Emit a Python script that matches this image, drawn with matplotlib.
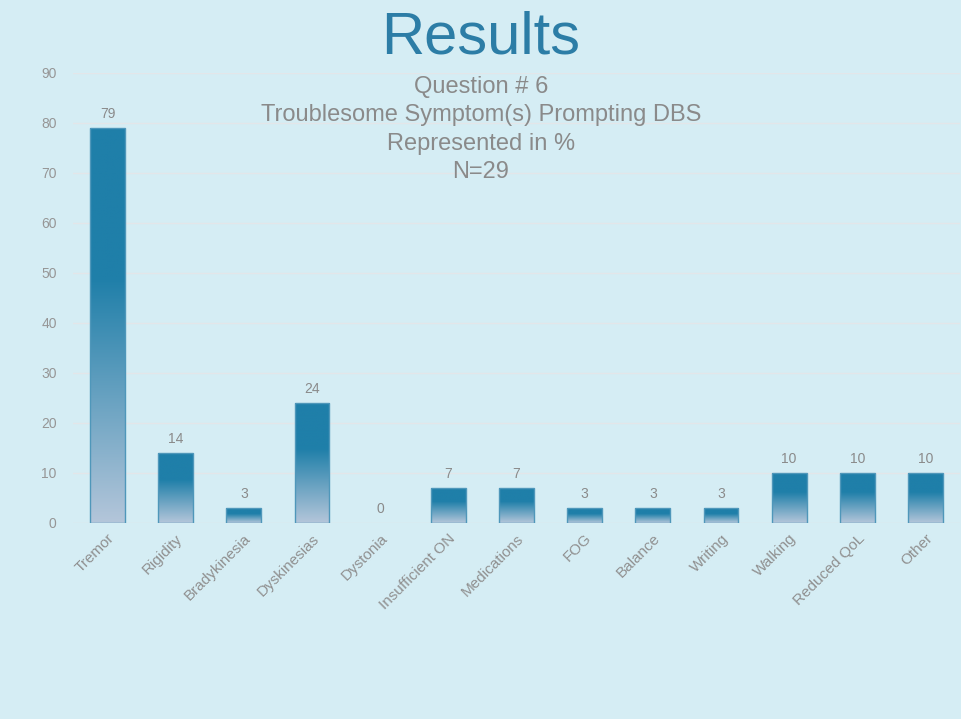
import matplotlib.pyplot as plt
import matplotlib.transforms as mtransforms
import numpy as np
from matplotlib.colors import LinearSegmentedColormap

plt.rcParams['font.family'] = ['Liberation Sans', 'DejaVu Sans']

categories = ['Tremor', 'Rigidity', 'Bradykinesia', 'Dyskinesias', 'Dystonia',
              'Insufficient ON', 'Medications', 'FOG', 'Balance', 'Writing',
              'Walking', 'Reduced QoL', 'Other']
values = [79, 14, 3, 24, 0, 7, 7, 3, 3, 3, 10, 10, 10]
yticks = [0, 10, 20, 30, 40, 50, 60, 70, 80, 90]
subtitle = ['Question # 6', 'Troublesome Symptom(s) Prompting DBS',
            'Represented in %', 'N=29']

bg = '#d5edf4'
dark = '#1f7fa9'
light = '#b4c6da'
grey = '#8a8a8a'

cmap = LinearSegmentedColormap.from_list('bar', [(0, light), (0.62, dark), (1, dark)])
grad = np.linspace(0, 1, 256).reshape(-1, 1)

W, H = 962, 719
fig = plt.figure(figsize=(W / 100, H / 100), dpi=100, facecolor=bg)
ax = fig.add_axes([73.4 / W, (H - 523) / H, 886.2 / W, 450 / H], facecolor=bg)

x = np.arange(len(categories))
w = 0.51
for xi, v in zip(x, values):
    if v > 0:
        ax.imshow(grad, extent=(xi - w/2, xi + w/2, 0, v), origin='lower',
                  aspect='auto', cmap=cmap, zorder=2)
        ax.add_patch(plt.Rectangle((xi - w/2, 0), w, v, fill=False,
                                   edgecolor='#4f97ba', lw=1, zorder=3))
    ax.annotate(str(v), (xi, v), xytext=(0, 10), textcoords='offset points',
                ha='center', va='center', fontsize=10, color=grey)

ax.set_xlim(-0.5, len(categories) - 0.5)
ax.set_ylim(0, 90)
ax.set_yticks(yticks)
ax.set_xticks(x)
ax.set_xticklabels(categories, rotation=45, ha='right', rotation_mode='anchor',
                   fontsize=11, color='#909090')
shift = mtransforms.ScaledTranslation(0 / 100, -3 / 100, fig.dpi_scale_trans)
for lab in ax.get_xticklabels():
    lab.set_transform(lab.get_transform() + shift)
ax.tick_params(axis='x', length=0, pad=6)
ax.tick_params(axis='y', length=0, pad=12, labelsize=10, labelcolor='#969696')
for s in ax.spines.values():
    s.set_visible(False)
ax.grid(axis='y', color='#e3e6e9', lw=1, zorder=0)
ax.set_axisbelow(True)

fig.text(0.5, (H - 53) / H, 'Results', ha='center', va='baseline',
         fontsize=43, color='#2c7da6')
for i, line in enumerate(subtitle):
    fig.text(0.5, (H - 93 - 28.5 * i) / H, line, ha='center', va='baseline',
             fontsize=17, color=grey)

fig.savefig('out.png', dpi=100, facecolor=bg)
